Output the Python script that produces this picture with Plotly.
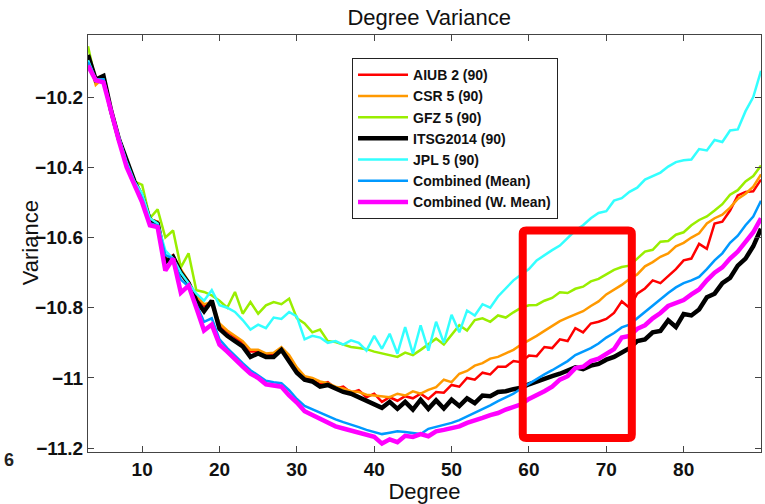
import plotly.graph_objects as go

degrees = list(range(3, 91))

aiub = [-10.085,-10.160,-10.145,-10.240,-10.318,-10.385,-10.440,-10.480,-10.548,-10.555,
        -10.665,-10.650,-10.695,-10.728,-10.770,-10.795,-10.790,-10.850,-10.868,-10.885,
        -10.900,-10.925,-10.925,-10.935,-10.932,-10.918,-10.940,-10.975,-11.000,-11.005,
        -11.018,-11.012,-11.030,-11.025,-11.042,-11.035,-11.055,-11.045,-11.068,-11.055,
        -11.065,-11.052,-11.058,-11.045,-11.060,-11.040,-11.042,-11.020,-11.025,-11.000,
        -11.005,-10.985,-10.990,-10.968,-10.968,-10.952,-10.955,-10.936,-10.938,-10.912,
        -10.915,-10.890,-10.895,-10.858,-10.870,-10.845,-10.840,-10.832,-10.815,-10.782,
        -10.800,-10.760,-10.745,-10.722,-10.730,-10.710,-10.690,-10.665,-10.660,-10.618,
        -10.632,-10.560,-10.555,-10.523,-10.480,-10.470,-10.468,-10.435]

csr = [-10.085,-10.165,-10.145,-10.240,-10.320,-10.385,-10.440,-10.485,-10.548,-10.555,
       -10.660,-10.655,-10.690,-10.725,-10.765,-10.790,-10.785,-10.845,-10.865,-10.880,
       -10.895,-10.920,-10.920,-10.930,-10.928,-10.912,-10.935,-10.970,-10.995,-11.000,
       -11.010,-11.015,-11.025,-11.030,-11.038,-11.040,-11.048,-11.050,-11.052,-11.055,
       -11.045,-11.050,-11.038,-11.045,-11.034,-11.026,-11.005,-11.012,-10.988,-10.980,
       -10.965,-10.958,-10.945,-10.940,-10.930,-10.920,-10.905,-10.893,-10.880,-10.866,
       -10.852,-10.838,-10.828,-10.818,-10.810,-10.795,-10.782,-10.762,-10.748,-10.735,
       -10.718,-10.705,-10.682,-10.670,-10.655,-10.645,-10.625,-10.615,-10.600,-10.588,
       -10.560,-10.545,-10.535,-10.515,-10.490,-10.475,-10.455,-10.420]

gfz = [-10.055,-10.155,-10.140,-10.235,-10.315,-10.380,-10.440,-10.450,-10.545,-10.520,
       -10.600,-10.580,-10.685,-10.645,-10.750,-10.755,-10.765,-10.780,-10.800,-10.755,
       -10.817,-10.784,-10.817,-10.793,-10.784,-10.790,-10.774,-10.830,-10.845,-10.870,
       -10.862,-10.895,-10.898,-10.905,-10.912,-10.915,-10.918,-10.925,-10.930,-10.936,
       -10.940,-10.928,-10.935,-10.920,-10.905,-10.888,-10.905,-10.878,-10.850,-10.865,
       -10.835,-10.830,-10.840,-10.822,-10.828,-10.813,-10.800,-10.793,-10.792,-10.780,
       -10.772,-10.756,-10.758,-10.746,-10.740,-10.725,-10.718,-10.705,-10.692,-10.684,
       -10.680,-10.660,-10.640,-10.635,-10.612,-10.610,-10.592,-10.585,-10.565,-10.550,
       -10.540,-10.523,-10.505,-10.478,-10.465,-10.440,-10.425,-10.395]

itsg = [-10.080,-10.150,-10.140,-10.240,-10.320,-10.385,-10.440,-10.485,-10.550,-10.560,
        -10.670,-10.655,-10.700,-10.730,-10.780,-10.810,-10.780,-10.860,-10.880,-10.895,
        -10.910,-10.940,-10.930,-10.940,-10.940,-10.920,-10.955,-10.985,-11.005,-11.010,
        -11.025,-11.020,-11.030,-11.040,-11.045,-11.055,-11.065,-11.075,-11.085,-11.068,
        -11.088,-11.068,-11.090,-11.062,-11.088,-11.064,-11.087,-11.062,-11.080,-11.058,
        -11.072,-11.050,-11.052,-11.040,-11.038,-11.032,-11.028,-11.018,-11.010,-11.000,
        -10.995,-10.988,-10.980,-10.970,-10.975,-10.965,-10.960,-10.948,-10.940,-10.926,
        -10.915,-10.895,-10.890,-10.870,-10.866,-10.836,-10.855,-10.818,-10.822,-10.805,
        -10.770,-10.760,-10.730,-10.715,-10.680,-10.660,-10.625,-10.575]

jpl = [-10.095,-10.150,-10.150,-10.240,-10.315,-10.385,-10.440,-10.475,-10.545,-10.560,
       -10.637,-10.660,-10.700,-10.730,-10.760,-10.780,-10.750,-10.793,-10.800,-10.812,
       -10.835,-10.862,-10.848,-10.858,-10.828,-10.832,-10.812,-10.825,-10.890,-10.880,
       -10.885,-10.900,-10.895,-10.905,-10.893,-10.900,-10.922,-10.880,-10.917,-10.874,
       -10.931,-10.855,-10.931,-10.850,-10.922,-10.840,-10.900,-10.820,-10.870,-10.808,
       -10.822,-10.790,-10.800,-10.768,-10.745,-10.722,-10.705,-10.690,-10.665,-10.650,
       -10.636,-10.623,-10.602,-10.580,-10.565,-10.545,-10.530,-10.525,-10.495,-10.488,
       -10.470,-10.458,-10.435,-10.425,-10.415,-10.398,-10.385,-10.380,-10.378,-10.348,
       -10.352,-10.322,-10.328,-10.295,-10.292,-10.240,-10.200,-10.125]

comb_mean = [-10.100,-10.150,-10.150,-10.240,-10.315,-10.390,-10.445,-10.490,-10.560,-10.565,
             -10.650,-10.660,-10.720,-10.740,-10.790,-10.840,-10.830,-10.890,-10.915,-10.938,
             -10.958,-10.978,-10.992,-11.008,-11.012,-11.015,-11.035,-11.060,-11.080,-11.090,
             -11.100,-11.110,-11.118,-11.126,-11.132,-11.140,-11.148,-11.155,-11.160,-11.156,
             -11.152,-11.154,-11.156,-11.160,-11.145,-11.140,-11.133,-11.128,-11.120,-11.110,
             -11.100,-11.090,-11.078,-11.066,-11.055,-11.045,-11.030,-11.016,-11.002,-10.990,
             -10.978,-10.966,-10.952,-10.935,-10.925,-10.915,-10.902,-10.885,-10.872,-10.856,
             -10.848,-10.830,-10.812,-10.795,-10.775,-10.758,-10.742,-10.730,-10.722,-10.712,
             -10.690,-10.665,-10.645,-10.615,-10.595,-10.565,-10.540,-10.495]

comb_wmean = [-10.110,-10.152,-10.158,-10.245,-10.325,-10.400,-10.450,-10.500,-10.565,-10.570,
              -10.694,-10.660,-10.757,-10.737,-10.800,-10.865,-10.848,-10.905,-10.925,-10.948,
              -10.968,-10.988,-11.000,-11.018,-11.022,-11.025,-11.050,-11.070,-11.095,-11.105,
              -11.118,-11.126,-11.138,-11.144,-11.150,-11.155,-11.160,-11.168,-11.187,-11.175,
              -11.183,-11.165,-11.168,-11.160,-11.166,-11.152,-11.148,-11.144,-11.138,-11.128,
              -11.122,-11.114,-11.106,-11.100,-11.090,-11.083,-11.075,-11.060,-11.050,-11.038,
              -11.025,-11.005,-10.995,-10.972,-10.968,-10.952,-10.945,-10.930,-10.918,-10.885,
              -10.880,-10.860,-10.850,-10.830,-10.815,-10.795,-10.785,-10.778,-10.762,-10.748,
              -10.722,-10.700,-10.685,-10.660,-10.640,-10.612,-10.585,-10.545]

series_names = ["AIUB 2 (90)", "CSR 5 (90)", "GFZ 5 (90)", "ITSG2014 (90)",
                "JPL 5 (90)", "Combined (Mean)", "Combined (W. Mean)"]
series_values = [aiub, csr, gfz, itsg, jpl, comb_mean, comb_wmean]
series_colors = ["#ff0000", "#ff9900", "#99ee00", "#000000", "#33ffff", "#0099ff", "#ff00ff"]
series_widths = [2.5, 2.5, 2.5, 4.5, 2.5, 2.5, 4.5]

x_tickvals = [10, 20, 30, 40, 50, 60, 70, 80]
y_tickvals = [-10.2, -10.4, -10.6, -10.8, -11.0, -11.2]
y_ticktext = ["\u221210.2", "\u221210.4", "\u221210.6", "\u221210.8", "\u221211", "\u221211.2"]

x_range = [3, 90]
y_range = [-11.211, -10.023]

# highlight box (degree range / variance range)
box_x = [59.2, 73.3]
box_y = [-11.171, -10.58]

fig = go.Figure()
for i in range(len(series_names)):
    fig.add_trace(go.Scatter(
        x=degrees, y=series_values[i], mode="lines", name=series_names[i],
        line=dict(color=series_colors[i], width=series_widths[i]),
    ))

# rounded-corner rectangle path
rx, ry = 0.45, 0.010
bx0, bx1 = box_x
by0, by1 = box_y
path = (f"M {bx0+rx},{by1} L {bx1-rx},{by1} Q {bx1},{by1} {bx1},{by1-ry} "
        f"L {bx1},{by0+ry} Q {bx1},{by0} {bx1-rx},{by0} "
        f"L {bx0+rx},{by0} Q {bx0},{by0} {bx0},{by0+ry} "
        f"L {bx0},{by1-ry} Q {bx0},{by1} {bx0+rx},{by1} Z")
fig.add_shape(type="path", xref="x", yref="y", path=path,
              line=dict(color="#ff0000", width=8), fillcolor="rgba(0,0,0,0)", layer="above")

fig.add_annotation(text="<b>6</b>", xref="paper", yref="paper", x=-0.118, y=-0.02,
                   showarrow=False, xanchor="center", yanchor="middle",
                   font=dict(size=18, color="#222", family="Liberation Sans, Arial"))

# y-axis title placed like the original (overlapping the tick-label column)
fig.add_annotation(text="Variance", xref="paper", yref="paper", x=-0.0862, y=0.503,
                   showarrow=False, textangle=-90, xanchor="center", yanchor="middle",
                   font=dict(size=22, color="#111", family="Liberation Sans, Arial"))

axis_common = dict(showline=True, linecolor="#444", linewidth=1, mirror="ticks",
                   ticks="inside", ticklen=6, tickcolor="#444", showgrid=False, zeroline=False)

fig.update_layout(
    width=765, height=504,
    margin=dict(l=88, r=4, t=35, b=52),
    paper_bgcolor="white", plot_bgcolor="white",
    font=dict(family="Liberation Sans, Arial", color="#111"),
    title=dict(text="Degree Variance", x=0.561, xanchor="center", y=0.966, yanchor="middle",
               font=dict(size=22, color="#111")),
    xaxis=dict(range=x_range, tickvals=x_tickvals,
               tickfont=dict(size=19, weight="bold", color="#111"),
               title=dict(text="Degree", font=dict(size=22), standoff=0), **axis_common),
    yaxis=dict(range=y_range, tickvals=y_tickvals, ticktext=y_ticktext,
               tickfont=dict(size=19, weight="bold", color="#111"), **axis_common),
    legend=dict(x=0.392, y=0.945, xanchor="left", yanchor="top",
                bgcolor="white", bordercolor="#222", borderwidth=1.2,
                font=dict(size=14, weight="bold", color="#111"),
                tracegroupgap=0, itemwidth=50),
    showlegend=True,
)

fig.write_html("out.html")
